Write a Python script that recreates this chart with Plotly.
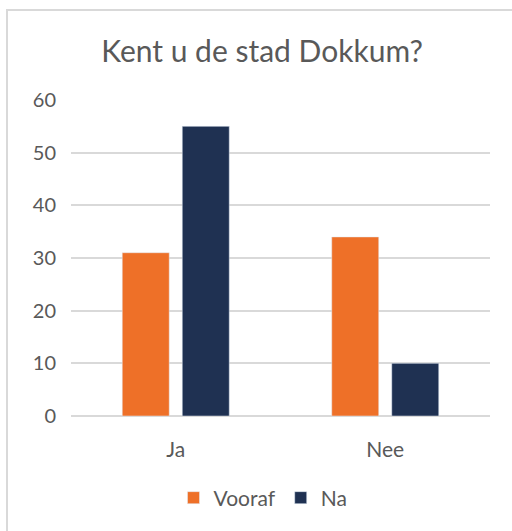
import plotly.graph_objects as go

categories = ["Ja", "Nee"]
vooraf = [31, 34]
na = [55, 10]
series_names = ["Vooraf", "Na"]
y_ticks = [0, 10, 20, 30, 40, 50, 60]

ORANGE = "#EE7028"
NAVY = "#1F3152"
TXT = "#595959"
FONT = "Lato, 'Open Sans', sans-serif"

fig = go.Figure()
fig.add_trace(go.Bar(x=categories, y=vooraf, name=series_names[0], marker_color=ORANGE))
fig.add_trace(go.Bar(x=categories, y=na, name=series_names[1], marker_color=NAVY))

W, H = 512, 531
L, R, T, B = 71, W - 490, 100, H - 416
pw, ph = W - L - R, H - T - B

def px_x(p):
    return (p - L) / pw

def px_y(p):
    return (H - B - p) / ph

fig.update_layout(
    width=W, height=H,
    margin=dict(l=L, r=R, t=T, b=B, pad=0),
    paper_bgcolor="white", plot_bgcolor="white",
    barmode="group", bargap=0.427, bargroupgap=0.217,
    font=dict(family=FONT, color=TXT, size=16),
    title=dict(text="Kent u de stad Dokkum?", x=262 / W, xanchor="center",
               xref="container",
               y=1 - 51 / H, yanchor="middle", yref="container",
               font=dict(size=30, color=TXT, family=FONT)),
    legend=dict(orientation="h", x=px_x(263), xanchor="center",
                y=px_y(498), yanchor="middle",
                font=dict(size=21, color=TXT), itemwidth=30,
                traceorder="normal"),
    showlegend=True,
    shapes=[
        dict(type="line", xref="paper", yref="paper",
             x0=px_x(7), x1=px_x(7), y0=px_y(10), y1=px_y(540),
             line=dict(color="#D9D9D9", width=2)),
        dict(type="line", xref="paper", yref="paper",
             x0=px_x(6), x1=px_x(520), y0=px_y(10), y1=px_y(10),
             line=dict(color="#D9D9D9", width=2)),
    ],
)
fig.update_xaxes(showgrid=False, showline=False, zeroline=False,
                 tickfont=dict(size=21, color=TXT), ticklabelstandoff=19)
fig.update_yaxes(range=[0, 60], tickvals=y_ticks, showgrid=True,
                 gridcolor="#D9D9D9", gridwidth=1.5, zeroline=True,
                 zerolinecolor="#D9D9D9", zerolinewidth=1.5, showline=False,
                 tickfont=dict(size=20, color=TXT), ticklabelstandoff=14)

fig.write_html("out.html", config={"displayModeBar": False},
               post_script="document.body.style.margin='0';")
